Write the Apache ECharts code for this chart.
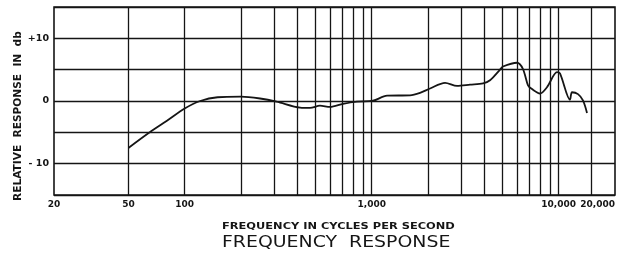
<!DOCTYPE html>
<html><head><meta charset="utf-8">
<script src="https://cdn.jsdelivr.net/npm/echarts@6/dist/echarts.min.js"></script>
<style>html,body{margin:0;padding:0;background:#fff}#c{width:633px;height:256px}</style>
</head><body><div id="c"></div>
<script>
// Frequency (Hz) and relative response (dB)
const freqs = [50, 65, 80, 100, 121, 150, 200, 253, 310, 414, 468, 529, 599, 702, 834, 1016, 1208, 1603, 1813, 2051, 2467, 2860, 3358, 3940, 4293, 4855, 5036, 5985, 6442, 6853, 7194, 7943, 8655, 9795, 10160, 11490, 11780, 12680, 13480, 14170];
const response = [-7.5, -5.0, -3.2, -1.2, 0.0, 0.6, 0.7, 0.4, -0.1, -1.05, -1.1, -0.75, -0.95, -0.45, -0.1, 0.05, 0.85, 0.9, 1.3, 2.0, 2.9, 2.4, 2.6, 2.8, 3.3, 5.0, 5.5, 6.1, 5.1, 2.5, 1.9, 1.2, 2.2, 4.6, 4.4, 0.2, 1.4, 1.1, 0.1, -1.9];
const gridFreqs = [50, 100, 200, 300, 400, 500, 600, 700, 800, 900, 1000, 2000, 3000, 4000, 5000, 6000, 7000, 8000, 9000, 10000, 15000];
const xTickValues = [20, 50, 100, 1000, 10000, 20000];
const xTickLabels = ['20', '50', '100', '1,000', '10,000', '20,000'];
const yTickLabels = {'10': '+10', '0': '0', '-10': '- 10'};

const INK = '#151515';
const chart = echarts.init(document.getElementById('c'));
chart.setOption({
  animation: false,
  grid: {left: 54, right: 18, top: 7, bottom: 61, show: true, borderColor: INK, borderWidth: 1.6, backgroundColor: 'transparent'},
  xAxis: {
    type: 'log', logBase: 10, min: 20, max: 20000,
    axisLine: {show: false}, axisTick: {show: false}, splitLine: {show: false}, minorSplitLine: {show: false},
    axisLabel: {
      customValues: xTickValues,
      formatter: v => { const i = xTickValues.findIndex(t => Math.abs(t - v) / t < 1e-6); return i >= 0 ? xTickLabels[i] : ''; },
      color: INK, fontFamily: 'DejaVu Sans', fontWeight: 'bold', fontSize: 9, margin: 5,
      alignMaxLabel: 'right'
    }
  },
  yAxis: {
    type: 'value', min: -15, max: 15, interval: 5,
    axisLine: {show: false}, axisTick: {show: false},
    splitLine: {show: true, lineStyle: {color: INK, width: 1.4}},
    axisLabel: {
      formatter: v => yTickLabels[String(v)] || '',
      color: INK, fontFamily: 'DejaVu Sans', fontWeight: 'bold', fontSize: 9.5, margin: 5
    }
  },
  graphic: [
    {type: 'text', x: 222, y: 222, scaleX: 1.2, style: {text: 'FREQUENCY IN CYCLES PER SECOND', fill: INK, font: 'bold 9.5px "DejaVu Sans"', textAlign: 'left', textVerticalAlign: 'top'}},
    {type: 'text', x: 222, y: 235, scaleX: 1.18, style: {text: 'FREQUENCY  RESPONSE', fill: INK, font: '16px "DejaVu Sans"', textAlign: 'left', textVerticalAlign: 'top'}},
    {type: 'text', x: 13, y: 201, rotation: Math.PI / 2, style: {text: 'RELATIVE  RESPONSE  IN  db', fill: INK, font: 'bold 10.6px "DejaVu Sans"', textAlign: 'left', textVerticalAlign: 'top'}}
  ],
  series: [{
    type: 'line',
    data: freqs.map((f, i) => [f, response[i]]),
    showSymbol: false, smooth: 0.3,
    lineStyle: {color: INK, width: 1.8},
    markLine: {
      silent: true, symbol: ['none', 'none'], label: {show: false},
      lineStyle: {color: INK, width: 1.3, type: 'solid'},
      data: gridFreqs.map(f => ({xAxis: f}))
    },
    z: 3
  }]
});
</script></body></html>
